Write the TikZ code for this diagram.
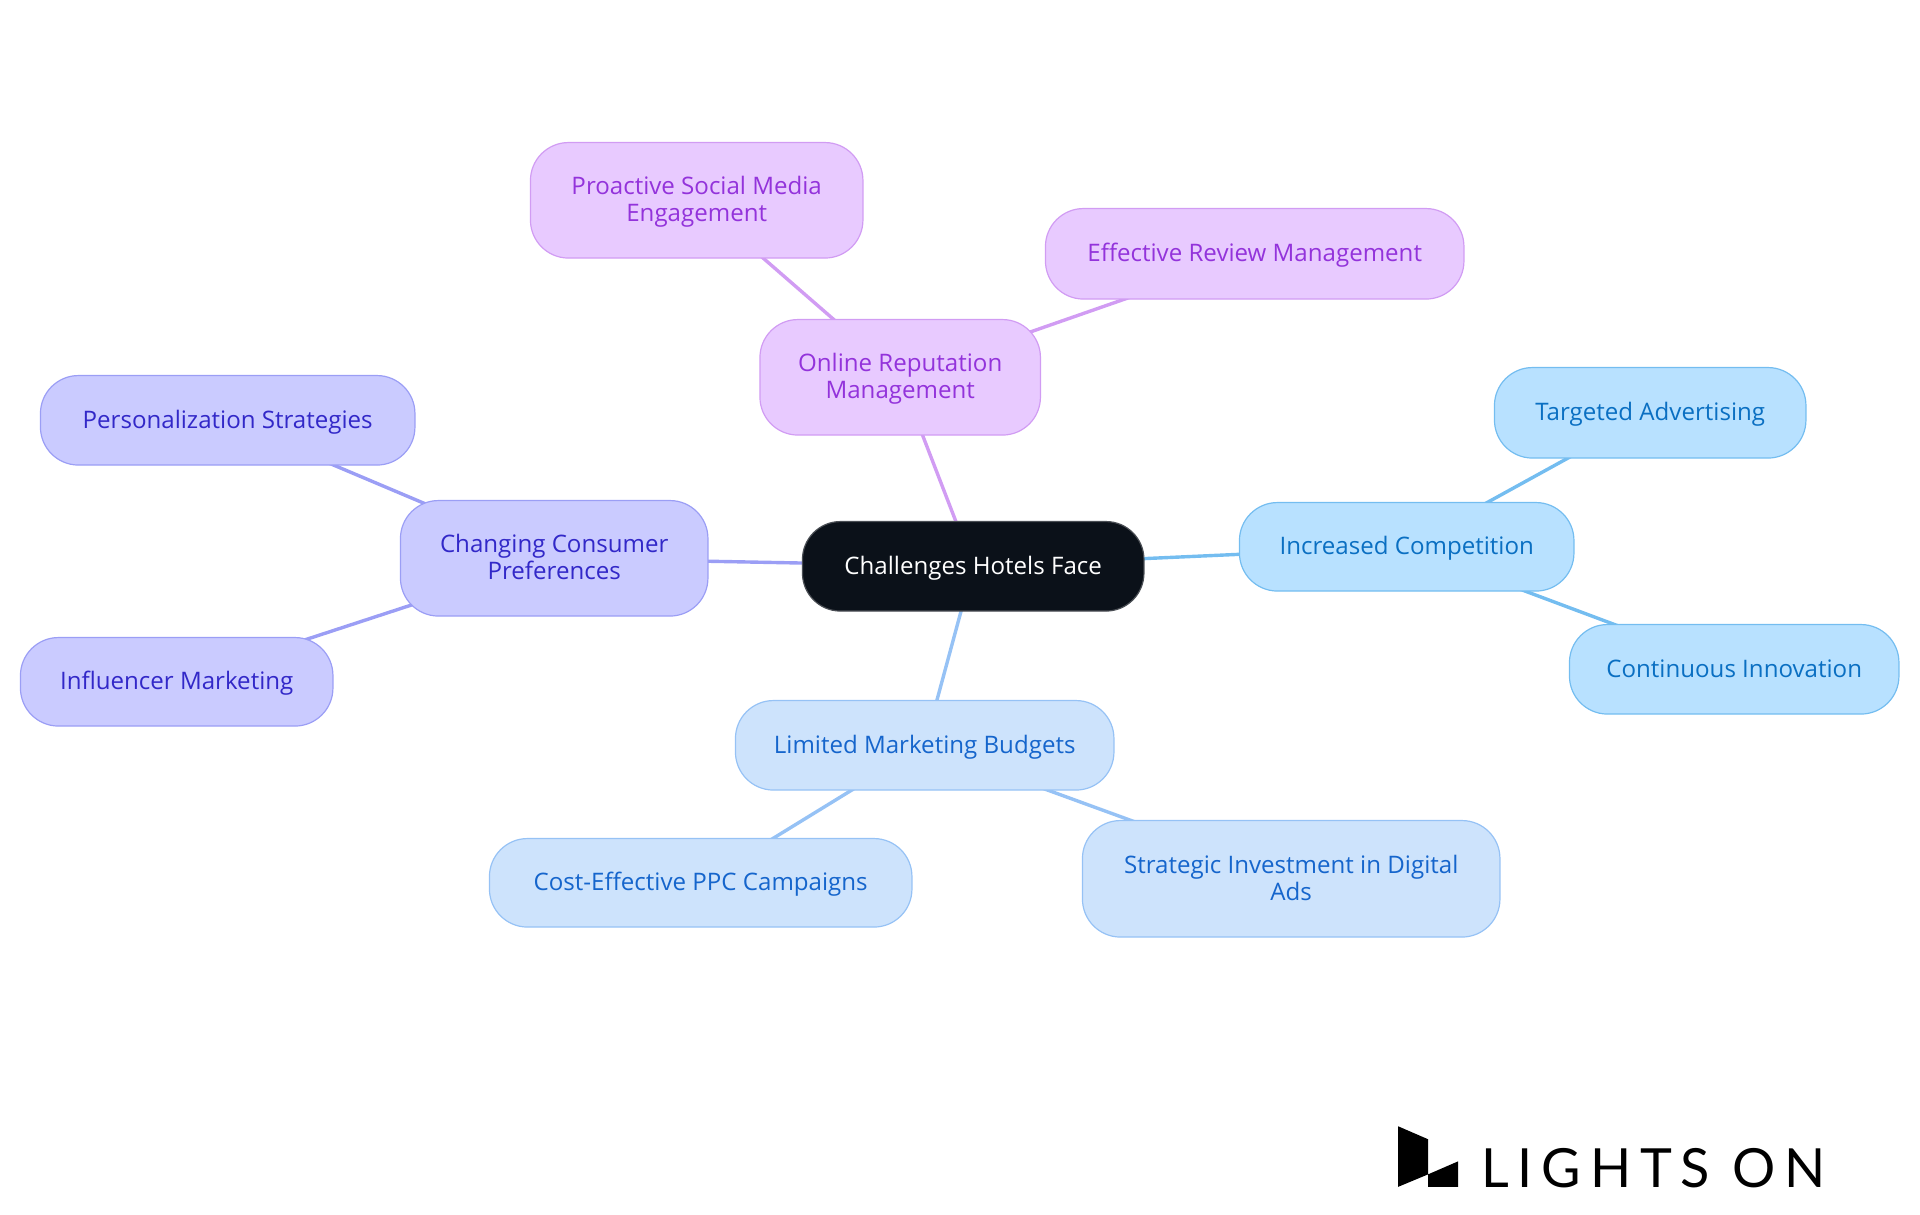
\documentclass[tikz,border=0pt]{standalone}
\usepackage{fontspec}
\setmainfont{Open Sans}
\newfontfamily\logofont[LetterSpace=16.2]{Lato}
\usetikzlibrary{backgrounds}
\definecolor{rootfill}{HTML}{0B1119}\definecolor{rootline}{HTML}{4A4E54}
\definecolor{purfill}{HTML}{E8CAFF}\definecolor{purline}{HTML}{D19CF3}\definecolor{purtext}{HTML}{9333DB}
\definecolor{skyfill}{HTML}{B8E1FF}\definecolor{skyline}{HTML}{74BDF0}\definecolor{skytext}{HTML}{0A6FC2}
\definecolor{blufill}{HTML}{CDE3FC}\definecolor{bluline}{HTML}{96C2F5}\definecolor{blutext}{HTML}{1565CC}
\definecolor{indfill}{HTML}{CACBFF}\definecolor{indline}{HTML}{9B9EF5}\definecolor{indtext}{HTML}{3228C8}
\newcommand\pilltext[1]{\raisebox{-2.3pt}[\height][\depth]{\begin{tabular}{@{}c@{}}#1\end{tabular}}}
\tikzset{
 pill/.style={rectangle,rounded corners=38pt,line width=1.2pt,align=center,inner sep=0pt,
   font=\fontsize{24.1pt}{27pt}\selectfont},
 rootnode/.style={pill,draw=rootline,fill=rootfill,text=white},
 purnode/.style={pill,draw=purline,fill=purfill,text=purtext},
 skynode/.style={pill,draw=skyline,fill=skyfill,text=skytext},
 blunode/.style={pill,draw=bluline,fill=blufill,text=blutext},
 indnode/.style={pill,draw=indline,fill=indfill,text=indtext},
 size/.style 2 args={minimum width=#1pt-0.5pt,minimum height=#2pt-0.5pt},
 link/.style={line width=3.4pt},
}
\begin{document}
\begin{tikzpicture}[x=1pt,y=-1pt]
\useasboundingbox (-0.2,-0.3) rectangle (1919.8,1214.7);
\node[rootnode,size={342}{90}] (root) at (973,566) {\pilltext{Challenges Hotels Face}};
\node[purnode,size={281}{116}] (online) at (900,377) {\pilltext{Online Reputation\\Management}};
\node[purnode,size={333}{116}] (proactive) at (696.5,200) {\pilltext{Proactive Social Media\\Engagement}};
\node[purnode,size={419}{91}] (review) at (1254.5,253.5) {\pilltext{Effective Review Management}};
\node[skynode,size={335}{89}] (compet) at (1406.5,546.5) {\pilltext{Increased Competition}};
\node[skynode,size={312}{91}] (target) at (1650,412.5) {\pilltext{Targeted Advertising}};
\node[skynode,size={330}{90}] (innov) at (1734,669) {\pilltext{Continuous Innovation}};
\node[blunode,size={379}{90}] (budget) at (924.5,745) {\pilltext{Limited Marketing Budgets}};
\node[blunode,size={423}{89}] (ppc) at (700.5,882.5) {\pilltext{Cost-Effective PPC Campaigns}};
\node[blunode,size={418}{117}] (digital) at (1291,878.5) {\pilltext{Strategic Investment in Digital\\Ads}};
\node[indnode,size={308}{116}] (consumer) at (554,558) {\pilltext{Changing Consumer\\Preferences}};
\node[indnode,size={375}{90}] (person) at (227.5,420) {\pilltext{Personalization Strategies}};
\node[indnode,size={313}{89}] (influ) at (176.5,681.5) {\pilltext{Influencer Marketing}};
\begin{scope}[on background layer]
\draw[link,purline] (root.center) -- (online.center);
\draw[link,purline] (online.center) -- (proactive.center);
\draw[link,purline] (online.center) -- (review.center);
\draw[link,skyline] (root.center) -- (compet.center);
\draw[link,skyline] (compet.center) -- (target.center);
\draw[link,skyline] (compet.center) -- (innov.center);
\draw[link,bluline] (root.center) -- (budget.center);
\draw[link,bluline] (budget.center) -- (ppc.center);
\draw[link,bluline] (budget.center) -- (digital.center);
\draw[link,indline] (root.center) -- (consumer.center);
\draw[link,indline] (consumer.center) -- (person.center);
\draw[link,indline] (consumer.center) -- (influ.center);
\end{scope}
\fill[black] (1398,1126) -- (1428,1139) -- (1428,1174) -- (1458,1161) -- (1458,1186.5) -- (1428,1186.5) -- (1428,1174) -- (1398,1186.5) -- cycle;
\node[anchor=base west,inner sep=0pt,text=black,font=\fontsize{54pt}{54pt}\logofont] (logo) at (1481,1187) {LIGHTS ON};
\end{tikzpicture}
\end{document}
